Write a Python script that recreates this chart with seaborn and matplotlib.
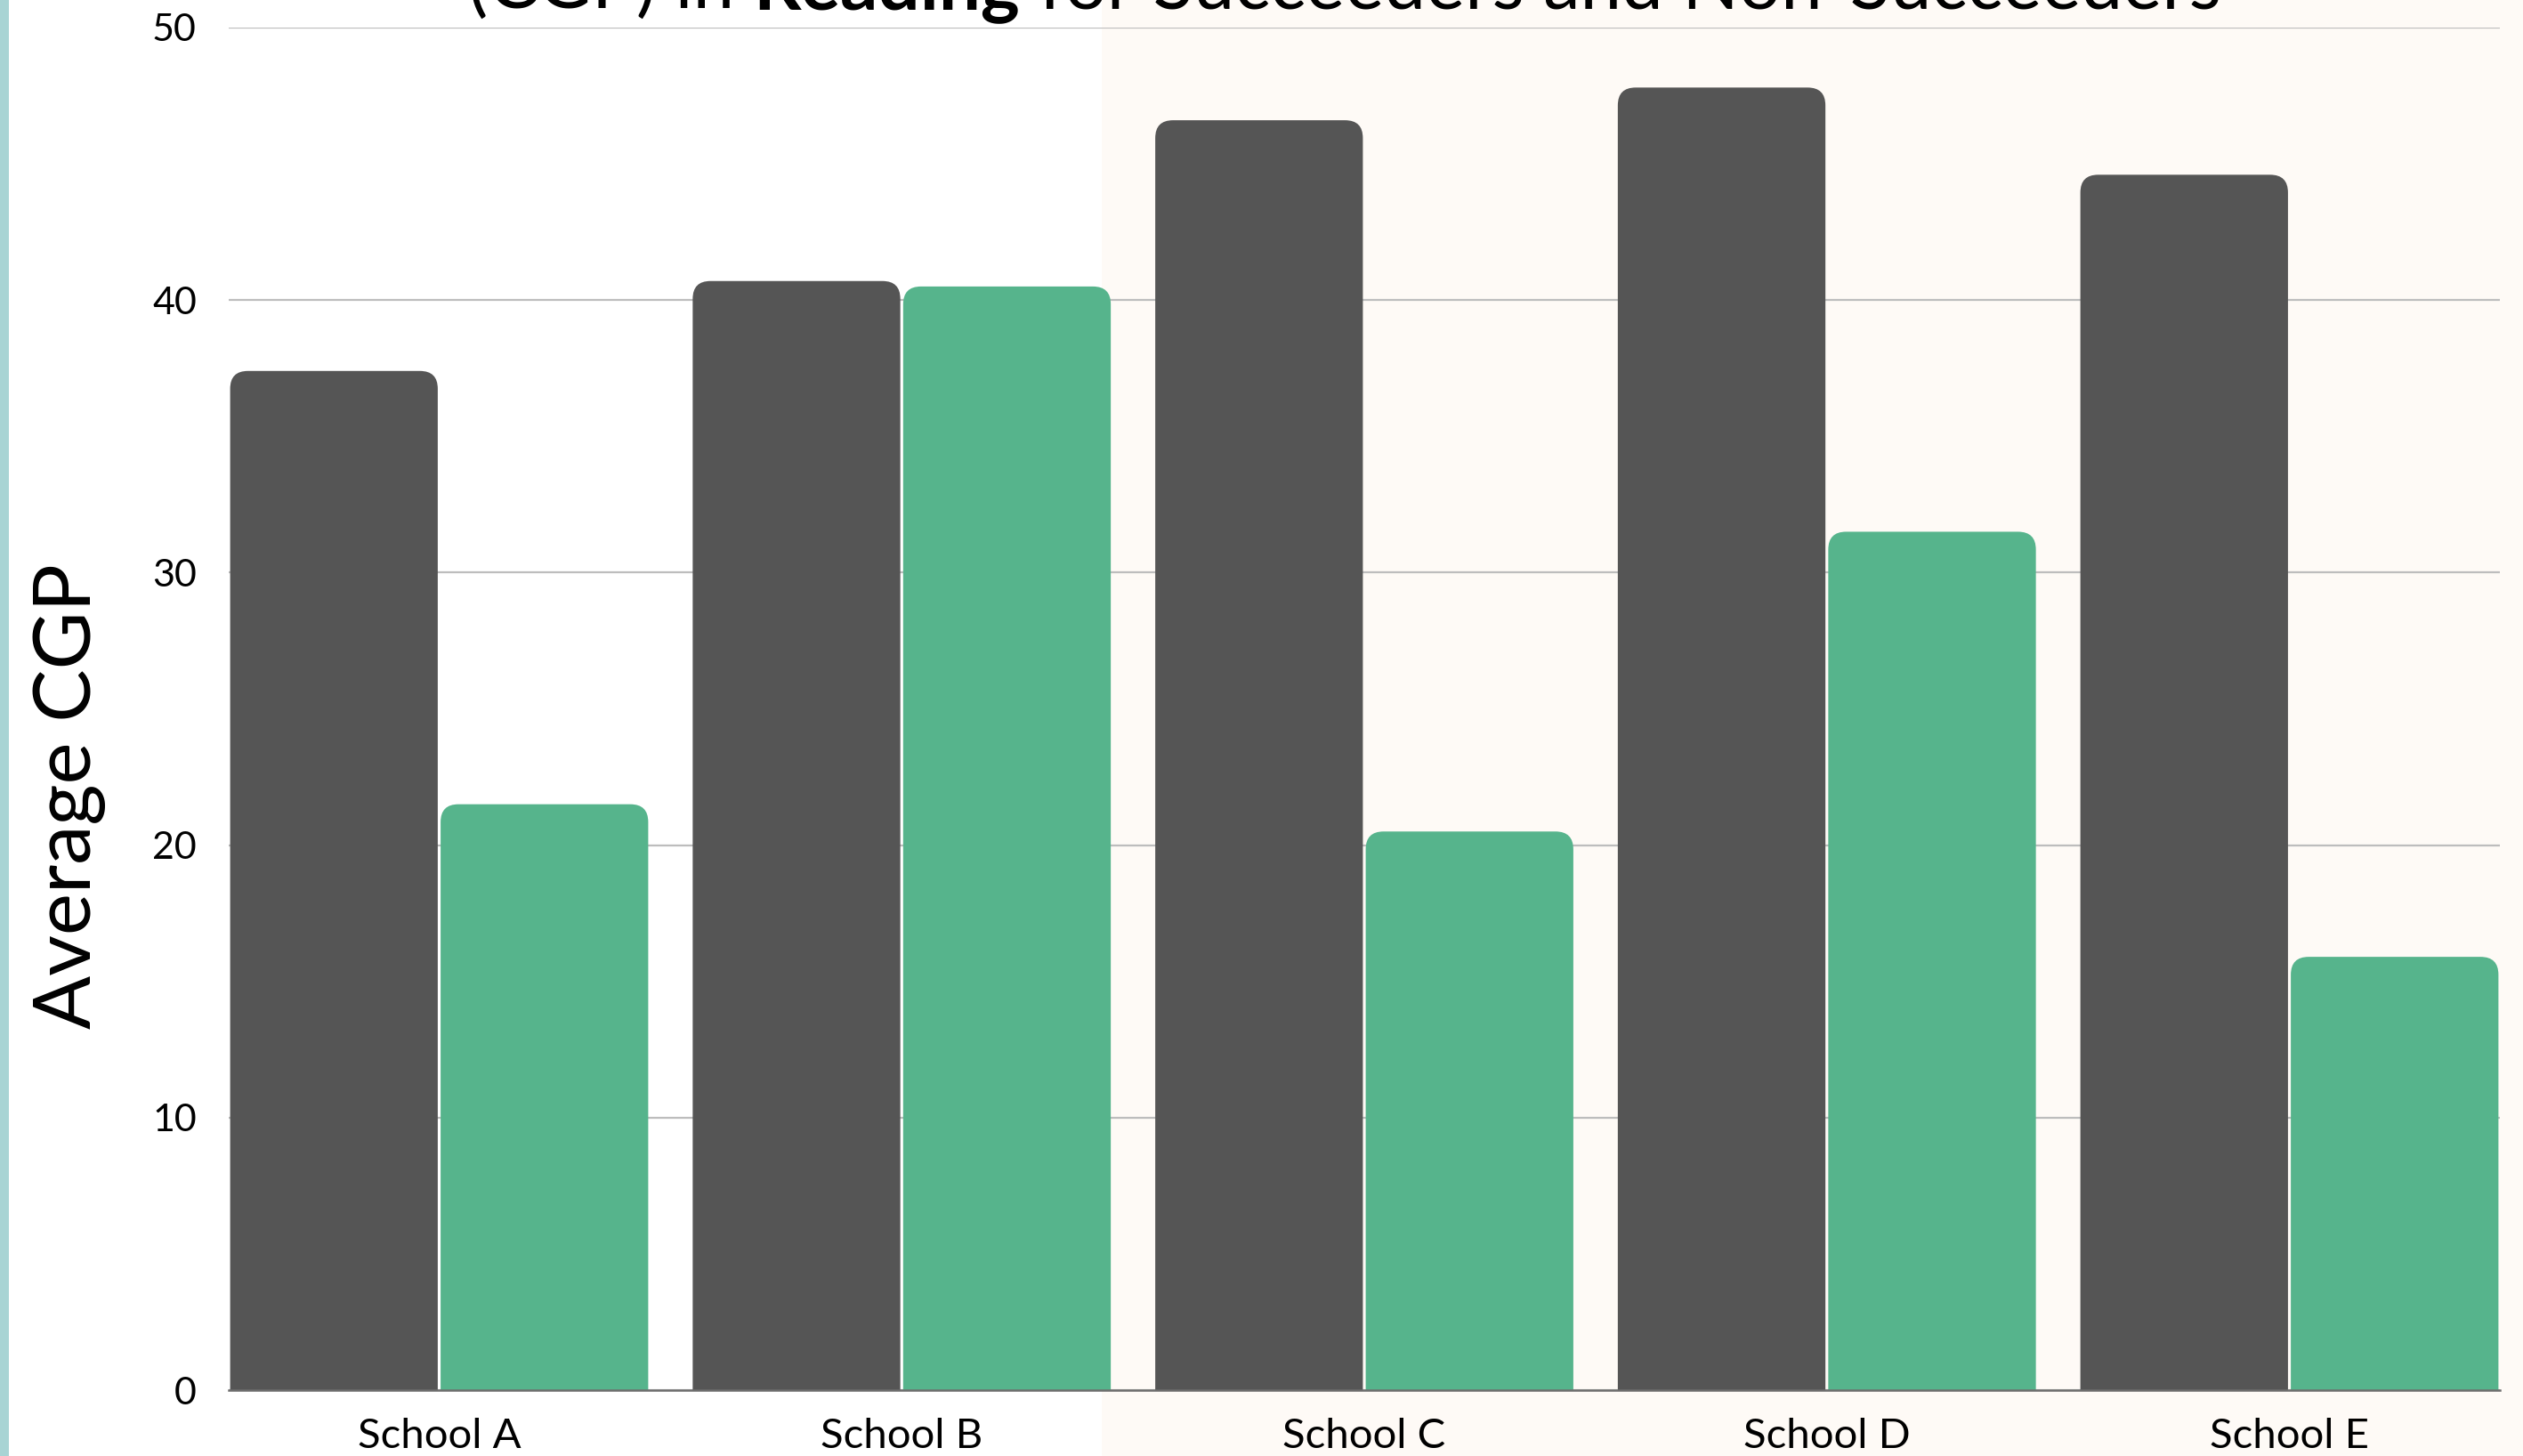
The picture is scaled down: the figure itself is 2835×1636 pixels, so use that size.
import pandas as pd
import matplotlib
matplotlib.use("Agg")
import matplotlib.pyplot as plt
from matplotlib.patches import FancyBboxPatch, Rectangle
import seaborn as sns

# --- DATA ---
schools = ["School A", "School B", "School C", "School D", "School E"]
succeeders = [37.4, 40.7, 46.6, 47.8, 44.6]
non_succeeders = [21.5, 40.5, 20.5, 31.5, 15.9]
groups = ["Succeeders", "Non-Succeeders"]

# --- CONFIG ---
dark = "#555555"
green = "#56B48C"
cream = "#FEFAF6"
teal = "#A8D4D4"
W, H, DPI = 2835, 1636, 200

df = pd.DataFrame({
    "School": schools * 2,
    "CGP": succeeders + non_succeeders,
    "Group": [groups[0]] * len(schools) + [groups[1]] * len(schools),
})

sns.set_theme(style="white")
plt.rcParams["font.family"] = ["Lato", "DejaVu Sans"]

fig = plt.figure(figsize=(W / DPI, H / DPI), dpi=DPI, facecolor="white")

# background panels (teal strip on the left, cream block on the right)
fig.patches.append(Rectangle((1238 / W, 0), 1 - 1238 / W, 1, transform=fig.transFigure,
                             facecolor=cream, edgecolor="none", zorder=-10))
fig.patches.append(Rectangle((0, 0), 10 / W, 1, transform=fig.transFigure,
                             facecolor=teal, edgecolor="none", zorder=-9))

ax = fig.add_axes([257 / W, 1 - 1562 / H, (2809 - 257) / W, (1562 - 31) / H])
ax.set_facecolor("none")

bar_w = 0.91
sns.barplot(data=df, x="School", y="CGP", hue="Group", palette=[dark, green],
            width=bar_w, saturation=1, legend=False, ax=ax, errorbar=None)

ax.set_xlim(-bar_w / 2, len(schools) - 1 + bar_w / 2)
ax.set_ylim(0, 50)

# --- rounded top corners: swap each seaborn bar for a rounded box ---
px_x = (2809 - 257) / (len(schools) - 1 + bar_w)   # pixels per x unit
px_y = (1562 - 31) / 50                             # pixels per y unit
r_px = 20
rx = r_px / px_x
aspect = (r_px / px_y) / rx
shrink = 1.6 / px_x
for p in list(ax.patches):
    x0, w, h = p.get_x(), p.get_width(), p.get_height()
    col = p.get_facecolor()
    p.remove()
    ax.add_patch(FancyBboxPatch((x0 + shrink, -2), w - 2 * shrink, h + 2,
                                boxstyle=f"round,pad=0,rounding_size={rx}",
                                mutation_aspect=aspect, facecolor=col,
                                edgecolor="none", zorder=2))

# --- axes styling ---
ax.set_yticks(range(0, 51, 10))
ax.yaxis.grid(True, color="#BDBDBD", linewidth=0.8)
ax.xaxis.grid(False)
ax.set_axisbelow(True)
for s in ["left", "top", "right"]:
    ax.spines[s].set_visible(False)
ax.spines["bottom"].set_color("#6E6E6E")
ax.spines["bottom"].set_linewidth(0.9)
ax.spines["bottom"].set_zorder(3)
ax.tick_params(axis="y", length=0, pad=13, labelsize=15.5, labelcolor="black")
ax.tick_params(axis="x", length=0, pad=11, labelsize=17, labelcolor="black")
ax.set_xlabel("")
ax.set_ylabel("")

fig.text(78 / W, 1 - 895 / H, "Average CGP", rotation=90, ha="center", va="center",
         fontsize=32, fontweight="normal", color="black")

# --- title (cut off at the top, "Reading" in bold) ---
pieces = [("(CGP) in ", "normal"), ("Reading", "bold"), (" for Succeeders and Non-Succeeders", "normal")]
title_size = 30
renderer = fig.canvas.get_renderer()
widths = []
for txt, wt in pieces:
    t = fig.text(0, 0, txt, fontsize=title_size, fontweight=wt)
    widths.append(t.get_window_extent(renderer).width)
    t.remove()
total = sum(widths)
x = 1511 - total / 2
for (txt, wt), wd in zip(pieces, widths):
    fig.text(x / W, 1 - 10 / H, txt, fontsize=title_size, fontweight=wt,
             ha="left", va="baseline", color="black")
    x += wd

fig.savefig("out.png", dpi=DPI)
